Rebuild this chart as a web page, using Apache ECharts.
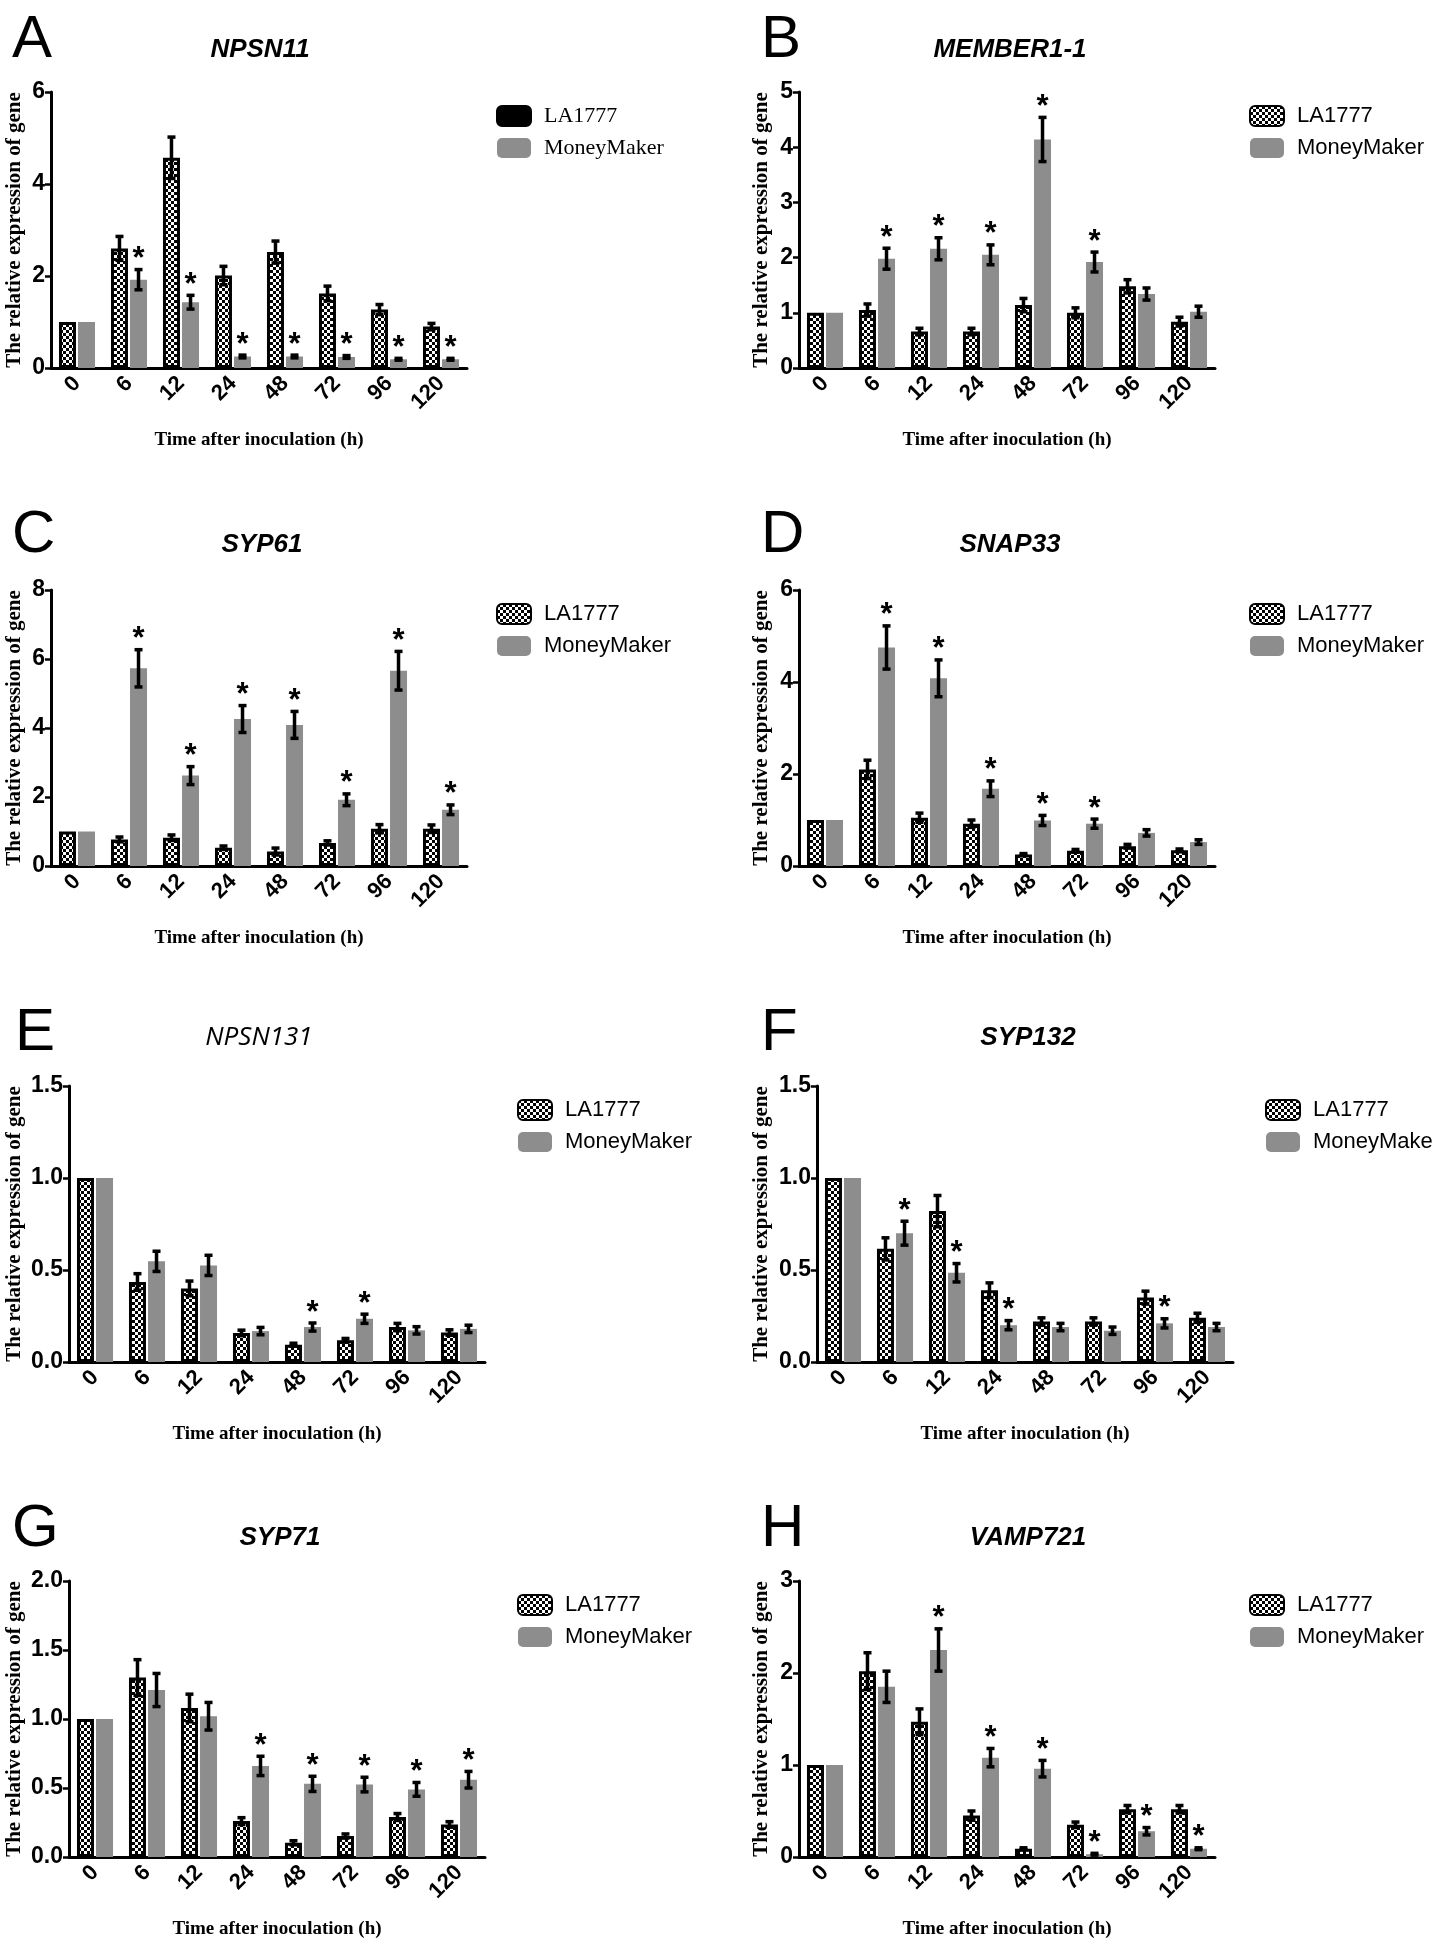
<!DOCTYPE html>
<html><head><meta charset="utf-8">
<script src="https://cdn.jsdelivr.net/npm/echarts@6/dist/echarts.min.js"></script>
<style>html,body{margin:0;padding:0;background:#fff}#c{width:1433px;height:1950px}</style>
</head><body><div id="c"></div>
<script>
const categories = ['0','6','12','24','48','72','96','120'];
const genes = ['NPSN11','MEMBER1-1','SYP61','SNAP33','NPSN131','SYP132','SYP71','VAMP721'];
const panelLetters = ['A','B','C','D','E','F','G','H'];
const seriesNames = ['LA1777','MoneyMaker'];
const yMax = [6,5,8,6,1.5,1.5,2,3];
const yInterval = [2,1,2,2,0.5,0.5,0.5,1];
const xTitle = 'Time after inoculation (h)';
const yTitle = 'The relative expression of gene';

// A NPSN11
const A_LA = [1.0, 2.60, 4.57, 2.01, 2.52, 1.62, 1.27, 0.90];
const A_LA_err = [0, 0.26, 0.45, 0.20, 0.24, 0.16, 0.11, 0.07];
const A_MM = [1.0, 1.92, 1.43, 0.25, 0.25, 0.24, 0.19, 0.19];
const A_MM_err = [0, 0.22, 0.15, 0.03, 0.03, 0.03, 0.02, 0.02];
const A_sig = [0,1,1,1,1,1,1,1];
// B MEMBER1-1
const B_LA = [1.0, 1.05, 0.66, 0.66, 1.14, 1.0, 1.48, 0.84];
const B_LA_err = [0, 0.11, 0.06, 0.06, 0.12, 0.09, 0.12, 0.08];
const B_MM = [1.0, 1.98, 2.16, 2.05, 4.14, 1.92, 1.34, 1.02];
const B_MM_err = [0, 0.19, 0.2, 0.18, 0.4, 0.18, 0.11, 0.1];
const B_sig = [0,1,1,1,1,1,0,0];
// C SYP61
const C_LA = [1.0, 0.77, 0.82, 0.53, 0.42, 0.67, 1.08, 1.08];
const C_LA_err = [0, 0.07, 0.08, 0.05, 0.1, 0.06, 0.12, 0.11];
const C_MM = [1.0, 5.73, 2.62, 4.26, 4.09, 1.92, 5.66, 1.63];
const C_MM_err = [0, 0.54, 0.26, 0.39, 0.39, 0.17, 0.56, 0.14];
const C_sig = [0,1,1,1,1,1,1,1];
// D SNAP33
const D_LA = [1.0, 2.10, 1.05, 0.92, 0.25, 0.33, 0.43, 0.34];
const D_LA_err = [0, 0.2, 0.1, 0.08, 0.02, 0.03, 0.04, 0.03];
const D_MM = [1.0, 4.75, 4.08, 1.68, 0.99, 0.92, 0.72, 0.52];
const D_MM_err = [0, 0.47, 0.4, 0.17, 0.11, 0.1, 0.07, 0.05];
const D_sig = [0,1,1,1,1,1,0,0];
// E NPSN131
const E_LA = [1.0, 0.435, 0.40, 0.158, 0.094, 0.118, 0.19, 0.16];
const E_LA_err = [0, 0.045, 0.04, 0.015, 0.008, 0.01, 0.02, 0.015];
const E_MM = [1.0, 0.547, 0.525, 0.168, 0.19, 0.235, 0.172, 0.18];
const E_MM_err = [0, 0.055, 0.055, 0.02, 0.022, 0.025, 0.02, 0.02];
const E_sig = [0,0,0,0,1,1,0,0];
// F SYP132
const F_LA = [1.0, 0.615, 0.82, 0.39, 0.22, 0.22, 0.35, 0.24];
const F_LA_err = [0, 0.06, 0.085, 0.04, 0.02, 0.02, 0.035, 0.025];
const F_MM = [1.0, 0.70, 0.485, 0.2, 0.19, 0.17, 0.21, 0.19];
const F_MM_err = [0, 0.065, 0.05, 0.025, 0.02, 0.02, 0.025, 0.02];
const F_sig = [0,1,1,1,0,0,1,0];
// G SYP71
const G_LA = [1.0, 1.30, 1.08, 0.26, 0.103, 0.152, 0.29, 0.236];
const G_LA_err = [0, 0.13, 0.1, 0.025, 0.015, 0.015, 0.025, 0.02];
const G_MM = [1.0, 1.21, 1.02, 0.66, 0.53, 0.525, 0.49, 0.56];
const G_MM_err = [0, 0.12, 0.1, 0.07, 0.055, 0.053, 0.05, 0.06];
const G_sig = [0,0,0,1,1,1,1,1];
// H VAMP721
const H_LA = [1.0, 2.02, 1.47, 0.45, 0.09, 0.35, 0.52, 0.52];
const H_LA_err = [0, 0.2, 0.14, 0.05, 0.01, 0.03, 0.04, 0.04];
const H_MM = [1.0, 1.85, 2.25, 1.08, 0.96, 0.03, 0.28, 0.09];
const H_MM_err = [0, 0.17, 0.23, 0.1, 0.09, 0.01, 0.04, 0.01];
const H_sig = [0,0,1,1,1,1,1,1];

const panels = [
  [A_LA, A_LA_err, A_MM, A_MM_err, A_sig],
  [B_LA, B_LA_err, B_MM, B_MM_err, B_sig],
  [C_LA, C_LA_err, C_MM, C_MM_err, C_sig],
  [D_LA, D_LA_err, D_MM, D_MM_err, D_sig],
  [E_LA, E_LA_err, E_MM, E_MM_err, E_sig],
  [F_LA, F_LA_err, F_MM, F_MM_err, F_sig],
  [G_LA, G_LA_err, G_MM, G_MM_err, G_sig],
  [H_LA, H_LA_err, H_MM, H_MM_err, H_sig]
];

// ---- layout (pixels) ----
const gridLeft = [51, 799, 51, 799, 69, 817, 69, 799];
const rowTop = [92, 590, 1086, 1581];
const gridW = 416, gridH = 276;
const legendLeft = [491, 1244, 491, 1244, 512, 1260, 512, 1244];
const titleX = [260, 1010, 262, 1010, 259, 1028, 280, 1028];
const titleY = [50, 545, 1038, 1538];
const letterX = [12, 761, 12, 761, 15, 761, 12, 761];
const letterY = [40, 535, 1033, 1529];
const yTitleCenterX = [15, 762];

const BAR_W = 17, GAP = 0.12;
const OFF = (BAR_W * (1 + GAP)) / 2;
const GRAY = '#8d8d8d';

// checker pattern
const pc = document.createElement('canvas');
pc.width = 6; pc.height = 6;
const pctx = pc.getContext('2d');
pctx.fillStyle = '#fff'; pctx.fillRect(0,0,6,6);
pctx.fillStyle = '#000'; pctx.fillRect(0,0,3,3); pctx.fillRect(3,3,3,3);
const checker = { image: pc, repeat: 'repeat' };

function errRender(off) {
  return function (params, api) {
    const cat = api.value(0), v = api.value(1), e = api.value(2), s = api.value(3);
    const c = api.coord([cat, v]);
    const x = c[0] + off;
    const top = api.coord([cat, v + e])[1];
    const bot = api.coord([cat, Math.max(v - e, 0)])[1];
    const ch = [];
    if (e > 0) {
      const ls = { stroke: '#000', lineWidth: 3.5 };
      ch.push({ type: 'line', shape: { x1: x, y1: top, x2: x, y2: bot }, style: ls });
      ch.push({ type: 'line', shape: { x1: x - 4, y1: top, x2: x + 4, y2: top }, style: ls });
      ch.push({ type: 'line', shape: { x1: x - 4, y1: bot, x2: x + 4, y2: bot }, style: ls });
    }
    if (s) {
      ch.push({ type: 'text', x: x, y: top - 10, style: { text: '*', font: 'bold 31px "Liberation Sans", Arial', fill: '#000', align: 'center', verticalAlign: 'middle' } });
    }
    return { type: 'group', children: ch };
  };
}

const grids = [], xAxes = [], yAxes = [], series = [], legends = [], graphics = [];
const sansB = '"Liberation Sans", Arial, sans-serif';
const narrow = '"Liberation Sans Narrow", "Liberation Sans", Arial, sans-serif';
const serif = '"Liberation Serif", "Times New Roman", serif';

panels.forEach((p, i) => {
  const col = i % 2, row = Math.floor(i / 2);
  grids.push({ left: gridLeft[i], top: rowTop[row], width: gridW, height: gridH });
  xAxes.push({
    type: 'category', gridIndex: i, data: categories,
    axisLine: { lineStyle: { color: '#000', width: 3 } },
    axisTick: { alignWithLabel: true, length: 7, lineStyle: { color: '#000', width: 2.5 } },
    axisLabel: { interval: 0, rotate: 45, margin: 12, color: '#000', fontFamily: narrow, fontWeight: 'bold', fontSize: 22 },
    name: xTitle, nameLocation: 'middle', nameGap: 63,
    nameTextStyle: { fontFamily: serif, fontWeight: 'bold', fontSize: 19, color: '#000' }
  });
  const dec = yInterval[i] < 1;
  yAxes.push({
    type: 'value', gridIndex: i, min: 0, max: yMax[i], interval: yInterval[i],
    axisLine: { show: true, lineStyle: { color: '#000', width: 3 } },
    axisTick: { show: true, length: 6, lineStyle: { color: '#000', width: 2.5 } },
    splitLine: { show: false },
    axisLabel: { margin: 6, color: '#000', fontFamily: narrow, fontWeight: 'bold', fontSize: 23,
      formatter: v => dec ? v.toFixed(1) : String(v) },
    name: yTitle, nameLocation: 'middle',
    nameGap: gridLeft[i] - yTitleCenterX[col] - 10,
    nameTextStyle: { fontFamily: serif, fontWeight: 'bold', fontSize: 21, color: '#000' }
  });
  const [la, laE, mm, mmE, sig] = p;
  series.push({ type: 'bar', name: seriesNames[0], xAxisIndex: i, yAxisIndex: i, data: la, barWidth: BAR_W, barGap: (GAP*100)+'%',
    itemStyle: { color: checker, borderColor: '#000', borderWidth: 3 }, z: 2 });
  series.push({ type: 'bar', name: seriesNames[1], xAxisIndex: i, yAxisIndex: i, data: mm, barWidth: BAR_W, barGap: (GAP*100)+'%',
    itemStyle: { color: GRAY }, z: 2 });
  series.push({ type: 'custom', xAxisIndex: i, yAxisIndex: i, renderItem: errRender(-OFF), z: 5,
    data: la.map((v, k) => [k, v, laE[k], 0]) });
  series.push({ type: 'custom', xAxisIndex: i, yAxisIndex: i, renderItem: errRender(OFF), z: 5,
    data: mm.map((v, k) => [k, v, mmE[k], sig[k]]) });

  const isA = i === 0;
  legends.push({
    orient: 'vertical', left: legendLeft[i], top: rowTop[row] + 8,
    itemWidth: 34, itemHeight: 20, itemGap: 10, icon: 'roundRect', selectedMode: false,
    data: [
      isA ? { name: seriesNames[0], itemStyle: { color: '#000', borderColor: '#000' } } : { name: seriesNames[0] },
      { name: seriesNames[1] }
    ],
    textStyle: { fontFamily: isA ? serif : sansB, fontSize: 22, color: '#000', padding: [0, 0, 0, 8] }
  });

  graphics.push({ type: 'text', x: letterX[i], y: letterY[row], style: {
    text: panelLetters[i], font: '60px "Liberation Sans", Arial, sans-serif', fill: '#000', align: 'left', verticalAlign: 'middle' } });
  const gFont = i === 4 ? 'italic 26px "Open Sans", "Noto Sans", sans-serif' : 'italic bold 26px "Liberation Sans", Arial, sans-serif';
  graphics.push({ type: 'text', x: titleX[i], y: titleY[row], style: {
    text: genes[i], font: gFont, fill: '#000', align: 'center', verticalAlign: 'middle' } });
});

const chart = echarts.init(document.getElementById('c'), null, { renderer: 'canvas' });
chart.setOption({
  animation: false,
  backgroundColor: '#fff',
  grid: grids, xAxis: xAxes, yAxis: yAxes, series: series, legend: legends,
  graphic: graphics
});
</script></body></html>
